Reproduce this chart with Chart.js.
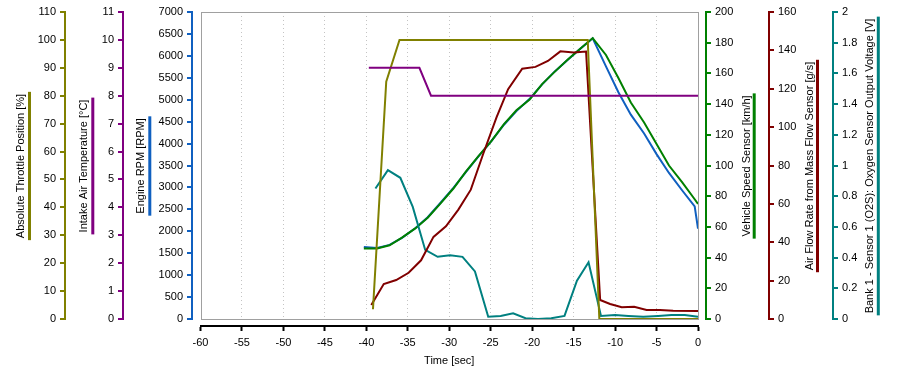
<!DOCTYPE html>
<html>
<head>
<meta charset="utf-8">
<script src="https://cdn.jsdelivr.net/npm/chart.js@4.4.1/dist/chart.umd.min.js"></script>
<style>
  html, body { margin: 0; padding: 0; background: #fff; }
  #wrap { width: 897px; height: 380px; position: relative; }
</style>
</head>
<body>
<div id="wrap"><canvas id="chart"></canvas></div>
<script>
// ── Data (time in seconds before "now") ──
const throttleTime = [-39.2, -37.6, -36.0, -13.3, -11.9, 0];
const throttlePct  = [3.5, 85, 100, 100, 0, 0];

const intakeTime = [-39.7, -33.6, -32.2, 0];
const intakeTemp = [9, 9, 8, 8];

const engineTime = [-40.3, -38.7, -37.2, -35.7, -34.1, -32.6, -31.1, -29.5, -28.0, -26.5,
                    -24.9, -23.4, -21.9, -20.3, -18.8, -17.3, -15.7, -14.2, -12.7, -11.1,
                    -9.6, -8.1, -6.5, -5.0, -3.5, -1.9, -0.4, 0];
const engineRpm  = [1640, 1620, 1690, 1850, 2070, 2320, 2640, 2990, 3350, 3700,
                    4060, 4430, 4740, 5020, 5350, 5640, 5910, 6160, 6400, 5760,
                    5170, 4660, 4230, 3760, 3330, 2930, 2570, 2060];
const speedKmh   = [46, 46, 48, 53, 59, 66, 75, 85, 96, 106,
                    116, 127, 136, 143, 153, 161, 169, 176, 183, 172,
                    157, 141, 128, 114, 100, 89, 78, 75];

const airTime = [-39.4, -37.9, -36.4, -34.9, -33.4, -31.9, -30.4, -28.9, -27.4, -25.9,
                 -24.3, -22.9, -21.2, -19.6, -18.1, -16.6, -15.0, -13.5, -11.8, -10.6,
                 -9.2, -7.7, -6.2, -4.6, -3.0, 0];
const airFlow = [7.3, 18.2, 20.3, 24.1, 30.6, 42.8, 48.3, 57, 67.4, 86.1,
                 105.1, 119.8, 130.4, 131.4, 134.5, 139.5, 138.9, 139.4, 9.9, 7.8,
                 6.1, 6.4, 4.7, 4.7, 4.3, 4.2];

const o2Time = [-38.9, -37.4, -35.9, -34.4, -32.9, -31.4, -29.9, -28.4, -26.9, -25.3,
                -23.8, -22.3, -20.8, -19.3, -17.7, -16.1, -14.6, -13.2, -11.7, -10.0,
                -8.4, -6.6, -4.8, -3.2, -1.6, 0];
const o2Volt = [0.85, 0.97, 0.92, 0.73, 0.45, 0.405, 0.415, 0.405, 0.31, 0.015,
                0.02, 0.037, 0.005, 0, 0.005, 0.02, 0.25, 0.37, 0.02, 0.026,
                0.02, 0.015, 0.02, 0.026, 0.026, 0.015];

const timeTicks = { min: -60, max: 0, step: 5 };

// ── Style ──
const FONT = '"Liberation Sans", Arial, sans-serif';
const C = {
  thr: '#808000', iat: '#800080', rpm: '#1060c0',
  vss: '#008000', maf: '#800000', o2:  '#008080',
};

const pts = (t, v) => t.map((x, i) => ({ x, y: v[i] }));
const fmt = v => String(+(+v).toFixed(2));

// y axis builder; tx/bx = title text / bar centre offsets from scale.left
function yAxis(pos, weight, color, max, step, width, title, tx, bx) {
  return {
    type: 'linear', position: pos, weight, min: 0, max,
    afterFit: s => { s.width = width; },
    grid: { drawOnChartArea: false, color, lineWidth: 2, tickLength: 5 },
    border: { color, width: 2 },
    ticks: { stepSize: step, color: '#000', padding: 4, font: { family: FONT, size: 11 }, callback: fmt },
    title: { display: false, text: title },
    _tx: tx, _bx: bx,
  };
}
function spacer(pos, size) {
  const horiz = pos === 'bottom';
  return {
    type: 'linear', position: pos, weight: 0, display: true,
    afterFit: s => { if (horiz) s.height = size; else s.width = size; },
    ticks: { display: false }, grid: { display: false }, border: { display: false },
  };
}

const Y_IDS = ['thr', 'iat', 'rpm', 'vss', 'maf', 'o2'];

// frame + rotated axis titles with coloured underline bar
const decor = {
  id: 'decor',
  beforeDatasetsDraw(chart) {
    const { ctx, chartArea: a } = chart;
    ctx.save();
    ctx.strokeStyle = '#a0a0a0';
    ctx.lineWidth = 1;
    ctx.strokeRect(Math.round(a.left) + 0.5, Math.round(a.top) + 0.5,
                   Math.round(a.right - a.left) - 1, Math.round(a.bottom - a.top));
    ctx.restore();
  },
  afterDraw(chart) {
    const { ctx, chartArea: a } = chart;
    const cy = (a.top + a.bottom) / 2 + 0.5;
    ctx.save();
    ctx.font = '11px ' + FONT;
    ctx.textAlign = 'center';
    ctx.textBaseline = 'middle';
    Y_IDS.forEach(id => {
      const s = chart.scales[id];
      const o = chart.options.scales[id];
      const text = o.title.text;
      const tw = ctx.measureText(text).width;
      ctx.fillStyle = C[id];
      ctx.fillRect(s.left + o._bx - 1.5, cy - tw / 2 - 2, 3, tw + 4);
      ctx.save();
      ctx.translate(s.left + o._tx, cy);
      ctx.rotate(-Math.PI / 2);
      ctx.fillStyle = '#000';
      ctx.fillText(text, 0, 0);
      ctx.restore();
    });
    ctx.restore();
  },
};

const line = (label, data, color, yAxisID) => ({
  label, data, yAxisID, xAxisID: 'x',
  borderColor: color, backgroundColor: color,
  borderWidth: 2, pointRadius: 0, tension: 0, fill: false,
});

new Chart(document.getElementById('chart'), {
  type: 'line',
  data: {
    datasets: [
      line('Intake Air Temperature', pts(intakeTime, intakeTemp), C.iat, 'iat'),
      line('Absolute Throttle Position', pts(throttleTime, throttlePct), C.thr, 'thr'),
      line('Air Flow Rate', pts(airTime, airFlow), C.maf, 'maf'),
      line('O2 Sensor', pts(o2Time, o2Volt), C.o2, 'o2'),
      line('Vehicle Speed', pts(engineTime, speedKmh), C.vss, 'vss'),
      line('Engine RPM', pts(engineTime, engineRpm), C.rpm, 'rpm'),
    ],
  },
  options: {
    responsive: true,
    maintainAspectRatio: false,
    animation: false,
    devicePixelRatio: 1,
    layout: { padding: { top: 12, bottom: 10, left: 0, right: 0 } },
    plugins: { legend: { display: false }, tooltip: { enabled: false } },
    scales: {
      x: {
        type: 'linear', position: 'bottom', weight: 1,
        min: timeTicks.min, max: timeTicks.max,
        afterFit: s => { s.height = 44; },
        ticks: { stepSize: timeTicks.step, color: '#000', padding: 5, font: { family: FONT, size: 11 }, callback: fmt },
        grid: {
          color: c => (c.tick && (c.tick.value === timeTicks.min || c.tick.value === timeTicks.max)) ? 'rgba(0,0,0,0)' : '#c4c4c4',
          lineWidth: 1, tickColor: '#000', tickWidth: 2, tickLength: 5,
        },
        border: { color: '#000', width: 2, dash: [1, 3] },
        title: { display: true, text: 'Time [sec]', color: '#000', font: { family: FONT, size: 11 }, padding: { top: 4, bottom: 2 } },
      },
      xPad: spacer('bottom', 7),
      yPadL: spacer('left', 8.5),
      yPadR: spacer('right', 8),
      rpm: yAxis('left', 1, C.rpm, 7000, 500, 69, 'Engine RPM [RPM]', 18, 26.8),
      iat: yAxis('left', 2, C.iat, 11, 1, 58, 'Intake Air Temperature [°C]', 18.5, 27.8),
      thr: yAxis('left', 3, C.thr, 110, 10, 65, 'Absolute Throttle Position [%]', 20.5, 29.5),
      vss: yAxis('right', 1, C.vss, 200, 20, 63, 'Vehicle Speed Sensor [km/h]', 40.7, 48.2),
      maf: yAxis('right', 2, C.maf, 160, 20, 64, 'Air Flow Rate from Mass Flow Sensor [g/s]', 40.5, 48.5),
      o2:  yAxis('right', 3, C.o2, 2, 0.2, 64, 'Bank 1 - Sensor 1 (O2S): Oxygen Sensor Output Voltage [V]', 36.5, 45.3),
    },
  },
  plugins: [decor],
});
</script>
</body>
</html>
